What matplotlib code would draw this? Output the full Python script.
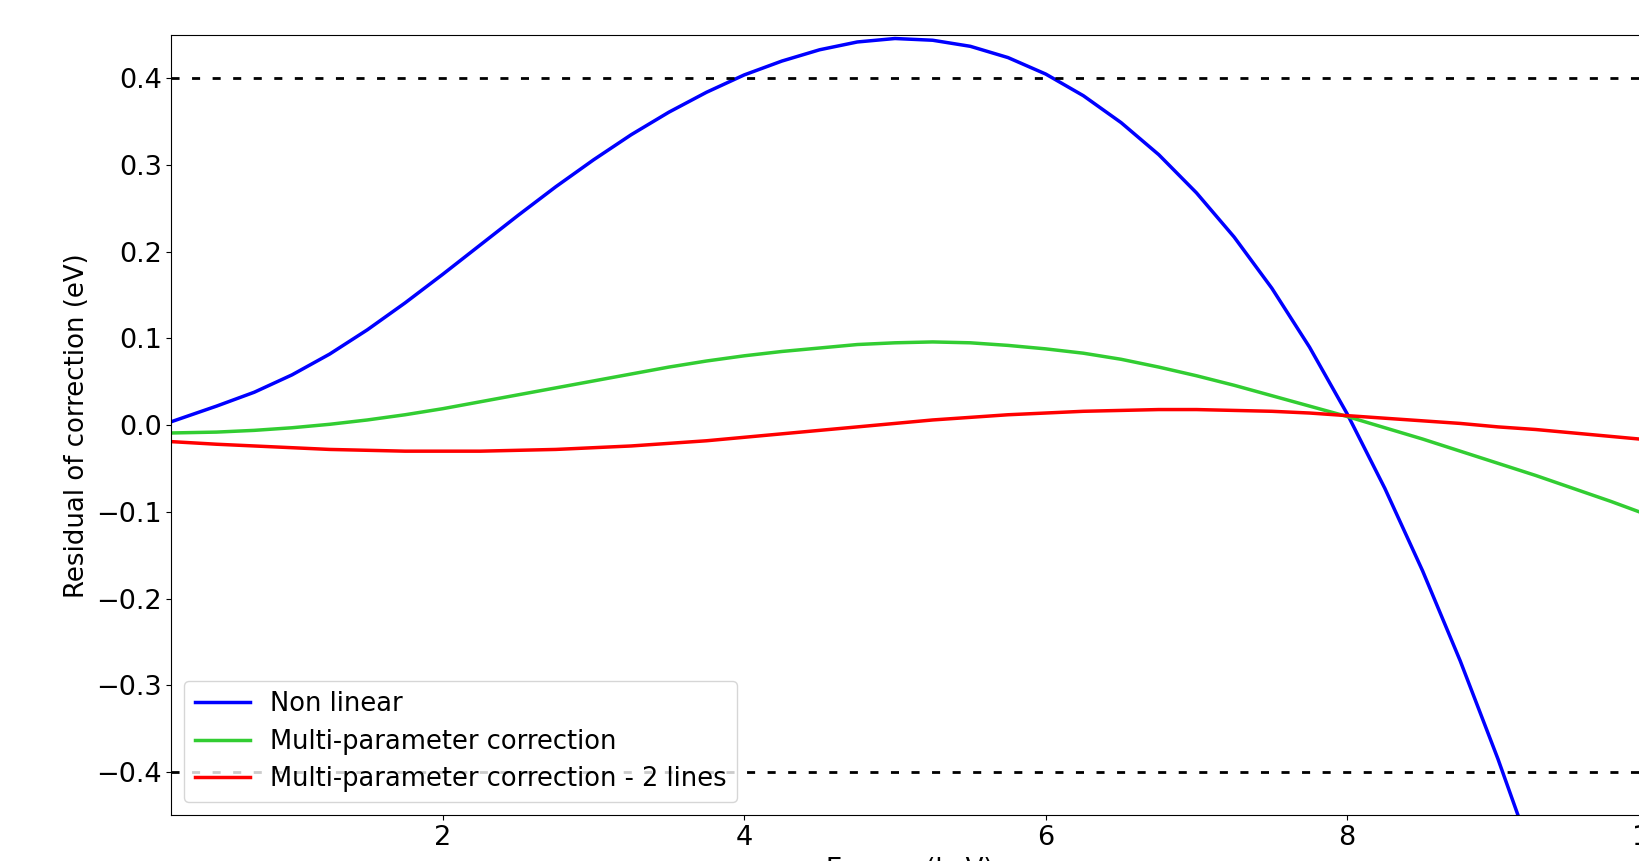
import numpy as np
import matplotlib
matplotlib.use("Agg")
import matplotlib.pyplot as plt

# Energy grid (keV) and residuals (eV)
energy = [0.2, 0.5, 0.75, 1.0, 1.25, 1.5, 1.75, 2.0, 2.25, 2.5, 2.75, 3.0,
          3.25, 3.5, 3.75, 4.0, 4.25, 4.5, 4.75, 5.0, 5.25, 5.5, 5.75, 6.0,
          6.25, 6.5, 6.75, 7.0, 7.25, 7.5, 7.75, 8.0, 8.25, 8.5, 8.75, 9.0,
          9.25, 9.5, 9.75, 10.0]

non_linear = [0.004, 0.022, 0.038, 0.058, 0.082, 0.110, 0.141, 0.174, 0.208,
              0.242, 0.275, 0.306, 0.335, 0.361, 0.384, 0.404, 0.420, 0.433,
              0.442, 0.446, 0.444, 0.437, 0.424, 0.405, 0.380, 0.349, 0.312,
              0.268, 0.217, 0.158, 0.090, 0.013, -0.073, -0.168, -0.272,
              -0.385, -0.507, -0.638, -0.778, -0.927]

multi_param = [-0.009, -0.008, -0.006, -0.003, 0.001, 0.006, 0.012, 0.019,
               0.027, 0.035, 0.043, 0.051, 0.059, 0.067, 0.074, 0.080, 0.085,
               0.089, 0.093, 0.095, 0.096, 0.095, 0.092, 0.088, 0.083, 0.076,
               0.067, 0.057, 0.046, 0.034, 0.022, 0.010, -0.003, -0.016,
               -0.030, -0.044, -0.058, -0.073, -0.088, -0.104]

multi_param_2 = [-0.019, -0.022, -0.024, -0.026, -0.028, -0.029, -0.030,
                 -0.030, -0.030, -0.029, -0.028, -0.026, -0.024, -0.021,
                 -0.018, -0.014, -0.010, -0.006, -0.002, 0.002, 0.006, 0.009,
                 0.012, 0.014, 0.016, 0.017, 0.018, 0.018, 0.017, 0.016,
                 0.014, 0.011, 0.008, 0.005, 0.002, -0.002, -0.005, -0.009,
                 -0.013, -0.017]

limit = 0.4

fig = plt.figure(figsize=(16.4, 8.61), dpi=100)
# the original figure is cut off on the right and at the bottom
ax = fig.add_axes([0.1045, 0.0531, 0.9008, 0.9062])

ax.plot(energy, non_linear, color="blue", lw=2.5, label="Non linear")
ax.plot(energy, multi_param, color="limegreen", lw=2.5,
        label="Multi-parameter correction")
ax.plot(energy, multi_param_2, color="red", lw=2.5,
        label="Multi-parameter correction - 2 lines")
ax.axhline(limit, color="black", lw=2, linestyle=(0, (2.9, 4.5)))
ax.axhline(-limit, color="black", lw=2, linestyle=(0, (2.9, 4.5)))

ax.set_xlim(0.2, 10)
ax.set_ylim(-0.45, 0.45)
ax.set_xticks([2, 4, 6, 8, 10])
ax.set_yticks(np.arange(-4, 5) / 10)
ax.tick_params(labelsize=19.5)
ax.set_xlabel("Energy (keV)", fontsize=18.7)
ax.set_ylabel("Residual of correction (eV)", fontsize=18.7)

ax.legend(loc="lower left", fontsize=18.5, handlelength=2.15,
          labelspacing=0.45)

fig.savefig("out.png", dpi=100)
